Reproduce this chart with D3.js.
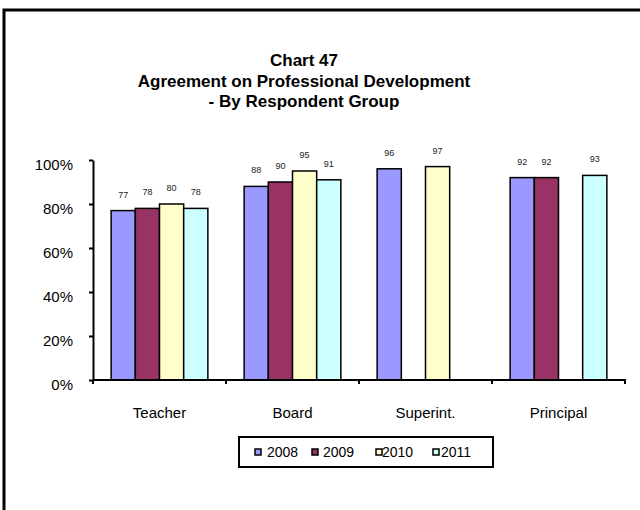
<!DOCTYPE html>
<html><head><meta charset="utf-8">
<script src="https://cdn.jsdelivr.net/npm/d3@7"></script>
<style>body{margin:0;background:#fff}svg{display:block;font-family:"Liberation Sans",Arial,sans-serif}</style>
</head><body><svg id="c" width="640" height="510"></svg>
<script>
const categories = ["Teacher", "Board", "Superint.", "Principal"];
const seriesNames = ["2008", "2009", "2010", "2011"];
const s2008 = [77, 88, 96, 92];
const s2009 = [78, 90, null, 92];
const s2010 = [80, 95, 97, null];
const s2011 = [78, 91, null, 93];
const colors = ["#9999FF", "#993366", "#FFFFCC", "#CCFFFF"];
const yTicks = [0, 20, 40, 60, 80, 100];
const titleLines = ["Chart 47", "Agreement on Professional Development", "- By Respondent Group"];

const series = [s2008, s2009, s2010, s2011];
const svg = d3.select("#c");

// outer frame (only left & top visible)
svg.append("path").attr("d", "M4,512 L4,10 L642,10").attr("fill", "none").attr("stroke", "#000").attr("stroke-width", 3);

// title
const title = svg.append("text").attr("text-anchor", "middle").attr("font-weight", "bold").attr("font-size", 17);
titleLines.forEach((t, i) => title.append("tspan").attr("x", 304).attr("y", 66 + i * 20.5).text(t));

const x0 = d3.scaleBand().domain(categories).range([93, 625]).paddingInner(0).paddingOuter(0);
const y = d3.scaleLinear().domain([0, 100]).range([380, 160]);
const bw = x0.bandwidth() / 5.5;
const x1 = d3.scaleBand().domain(seriesNames).range([0.75 * bw, 4.75 * bw]);

// bars
const g = svg.append("g");
categories.forEach((c, ci) => {
  series.forEach((s, si) => {
    const v = s[ci];
    if (v == null) return;
    const bx = x0(c) + x1(seriesNames[si]);
    g.append("rect").attr("x", bx).attr("y", y(v)).attr("width", x1.bandwidth()).attr("height", y(0) - y(v))
      .attr("fill", colors[si]).attr("stroke", "#000").attr("stroke-width", 1.5);
    g.append("text").attr("x", bx + x1.bandwidth() / 2).attr("y", y(v) - 13).attr("text-anchor", "middle")
      .attr("font-size", 9).attr("fill", "#222").text(v);
  });
});

// y axis
const yAxis = d3.axisLeft(y).tickValues(yTicks).tickFormat(d => d + "%").tickSize(4).tickSizeOuter(0);
const ya = svg.append("g").attr("transform", "translate(93,0)").call(yAxis);
ya.select(".domain").attr("stroke-width", 2);
ya.selectAll(".tick line").attr("stroke-width", 2);
ya.selectAll(".tick text").attr("font-size", 15).attr("fill", "#000").attr("x", -20).attr("dy", "0.62em").attr("font-family", null);
ya.attr("font-family", null);

// x axis
const xTickScale = d3.scaleLinear().domain([0, categories.length]).range([93, 625]);
const xa = svg.append("g").attr("transform", "translate(0,380)");
xa.append("line").attr("x1", 93).attr("x2", 626).attr("stroke", "#000").attr("stroke-width", 2);
d3.range(categories.length + 1).forEach(i => {
  xa.append("line").attr("x1", xTickScale(i)).attr("x2", xTickScale(i)).attr("y1", 0).attr("y2", 4).attr("stroke", "#000").attr("stroke-width", 2);
});
categories.forEach(c => {
  xa.append("text").attr("x", x0(c) + x0.bandwidth() / 2).attr("y", 38).attr("text-anchor", "middle").attr("font-size", 15).text(c);
});

// legend
const lg = svg.append("g");
lg.append("rect").attr("x", 239).attr("y", 437).attr("width", 254).attr("height", 30).attr("fill", "#fff").attr("stroke", "#000").attr("stroke-width", 2);
const lx = [255, 312, 376, 433];
const tx = [267, 323, 382, 441];
seriesNames.forEach((n, i) => {
  lg.append("rect").attr("x", lx[i]).attr("y", 449).attr("width", 6).attr("height", 6).attr("fill", colors[i]).attr("stroke", "#000").attr("stroke-width", 1.5);
  lg.append("text").attr("x", tx[i]).attr("y", 457).attr("font-size", 14).text(n);
});
</script></body></html>
